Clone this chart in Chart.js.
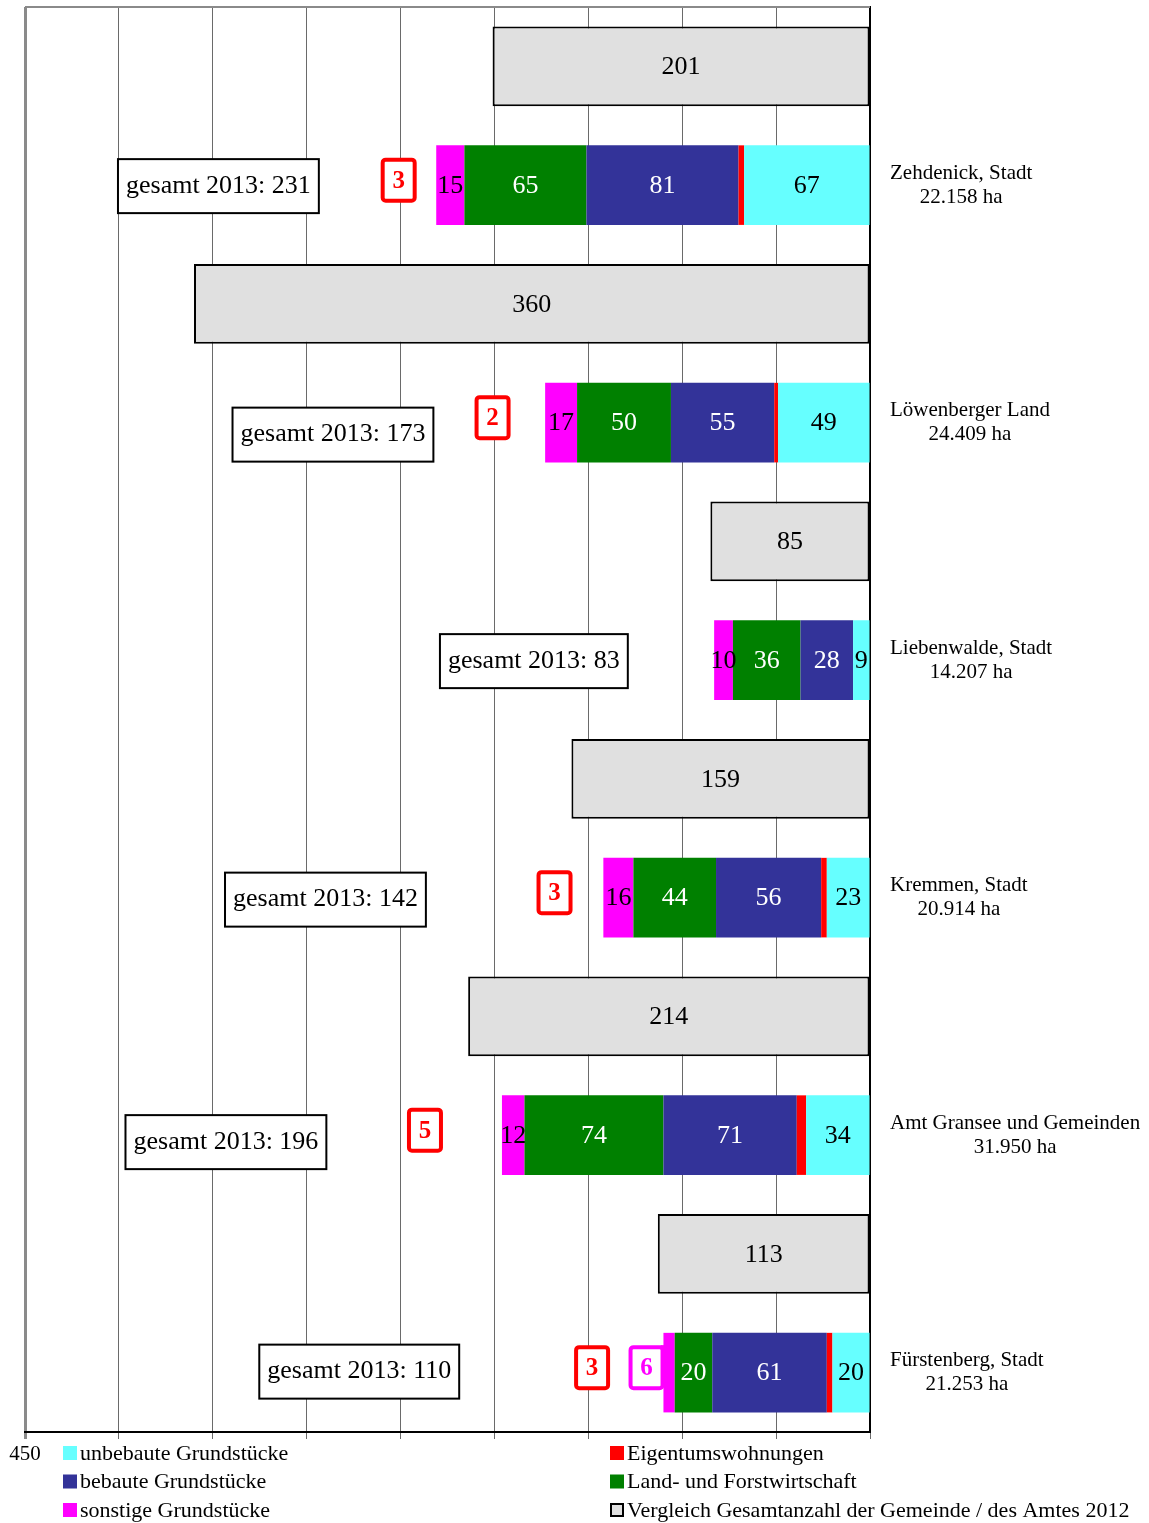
<!DOCTYPE html>
<html>
<head>
<meta charset="utf-8">
<script src="https://cdn.jsdelivr.net/npm/chart.js@4.4.1/dist/chart.umd.min.js"></script>
<style>
  body { margin: 0; background: #fff; }
  #wrap { width: 1149px; height: 1523px; position: relative; }
</style>
</head>
<body>
<div id="wrap"><canvas id="chart"></canvas></div>
<script>
// Gemeinde / Amt, Fläche
const gemeinden = [
  ['Zehdenick, Stadt', '22.158 ha'],
  ['Löwenberger Land', '24.409 ha'],
  ['Liebenwalde, Stadt', '14.207 ha'],
  ['Kremmen, Stadt', '20.914 ha'],
  ['Amt Gransee und Gemeinden', '31.950 ha'],
  ['Fürstenberg, Stadt', '21.253 ha']
];
const gesamt2012 = [201, 360, 85, 159, 214, 113];
const unbebaut   = [67, 49, 9, 23, 34, 20];
const eigentum   = [3, 2, 0, 3, 5, 3];
const bebaut     = [81, 55, 28, 56, 71, 61];
const landForst  = [65, 50, 36, 44, 74, 20];
const sonstige   = [15, 17, 10, 16, 12, 6];
const gesamt2013 = [231, 173, 83, 142, 196, 110];
const xTicks = [0, 50, 100, 150, 200, 250, 300, 350, 400, 450];

// where the text boxes sit (x in axis units, y nudge in px)
const gesamtBoxAt = [347, 286, 179, 290, 343, 272];
const gesamtBoxNudge = [0, 11, 0, 1, 6, -2];
const eigentumCalloutAt = [251, 201, null, 168, 237, 148];
const sonstigeCalloutAt = [null, null, null, null, null, 119];

const FONT = '"Liberation Serif", "Times New Roman", serif';

// each Gemeinde gets two rows: 2012 total above, 2013 breakdown below
const labels = gemeinden.flatMap(g => [g[0] + ' 2012', g[0]]);
const rows2012 = v => v.flatMap(n => [n, null]);
const rows2013 = v => v.flatMap(n => [null, n]);

const datasets = [
  { label: 'unbebaute Grundstücke', data: rows2013(unbebaut), backgroundColor: '#66ffff', textColor: '#000' },
  { label: 'Eigentumswohnungen', data: rows2013(eigentum), backgroundColor: '#ff0000', textColor: '#ff0000', callouts: eigentumCalloutAt },
  { label: 'bebaute Grundstücke', data: rows2013(bebaut), backgroundColor: '#333399', textColor: '#fff' },
  { label: 'Land- und Forstwirtschaft', data: rows2013(landForst), backgroundColor: '#008000', textColor: '#fff' },
  { label: 'sonstige Grundstücke', data: rows2013(sonstige), backgroundColor: '#ff00ff', textColor: '#000', callouts: sonstigeCalloutAt, joined: true },
  { label: 'Vergleich Gesamtanzahl der Gemeinde / des Amtes 2012', data: rows2012(gesamt2012), backgroundColor: '#e0e0e0',
    borderColor: '#000', borderWidth: 2, borderSkipped: false, textColor: '#000' }
];

function roundBox(ctx, x, y, w, h, r) {
  ctx.beginPath();
  ctx.roundRect(x, y, w, h, r);
}

const extras = {
  id: 'extras',
  beforeDatasetsDraw(chart) {
    const { ctx, chartArea: a } = chart;
    ctx.save();
    ctx.strokeStyle = '#8a8a8a';
    ctx.lineWidth = 2;
    ctx.beginPath();
    ctx.moveTo(a.left, a.top);
    ctx.lineTo(a.right, a.top);
    ctx.stroke();
    ctx.restore();
  },
  afterDatasetsDraw(chart) {
    const { ctx, scales: { x, y } } = chart;
    ctx.save();
    ctx.textAlign = 'center';
    ctx.textBaseline = 'middle';

    // values inside the segments
    ctx.font = '26px ' + FONT;
    chart.data.datasets.forEach((ds, di) => {
      chart.getDatasetMeta(di).data.forEach((bar, i) => {
        const v = ds.data[i];
        if (!v || v < 8) return;
        ctx.fillStyle = ds.textColor;
        ctx.fillText(String(v), (bar.x + bar.base) / 2, bar.y + 1);
      });
    });

    // small segments get a framed label beside the bar
    ctx.font = 'bold 25px ' + FONT;
    chart.data.datasets.forEach((ds, di) => {
      if (!ds.callouts) return;
      const meta = chart.getDatasetMeta(di);
      ds.callouts.forEach((at, g) => {
        if (at == null) return;
        const bar = meta.data[2 * g + 1];
        const cx = x.getPixelForValue(at), cy = bar.y - 5;
        const w = 32, h = 41;
        const col = ds.backgroundColor;
        if (ds.joined) {
          ctx.fillStyle = col;
          ctx.fillRect(cx + w / 2 - 2, cy - h / 2 - 2, Math.min(bar.x, bar.base) - (cx + w / 2) + 4, 4);
        }
        roundBox(ctx, cx - w / 2, cy - h / 2, w, h, 3);
        ctx.fillStyle = '#fff';
        ctx.fill();
        ctx.strokeStyle = col;
        ctx.lineWidth = 4;
        ctx.stroke();
        ctx.fillStyle = col;
        ctx.fillText(String(ds.data[2 * g + 1]), cx, cy + 1);
      });
    });

    // "gesamt 2013" boxes
    ctx.font = '26px ' + FONT;
    gesamt2013.forEach((v, g) => {
      const txt = 'gesamt 2013: ' + v;
      const cx = x.getPixelForValue(gesamtBoxAt[g]);
      const cy = y.getPixelForValue(2 * g + 1) + 1 + gesamtBoxNudge[g];
      const w = ctx.measureText(txt).width + 16, h = 54;
      ctx.fillStyle = '#fff';
      ctx.fillRect(cx - w / 2, cy - h / 2, w, h);
      ctx.strokeStyle = '#000';
      ctx.lineWidth = 2;
      ctx.strokeRect(cx - w / 2, cy - h / 2, w, h);
      ctx.fillStyle = '#000';
      ctx.fillText(txt, cx, cy);
    });

    // names on the right
    ctx.font = '21px ' + FONT;
    ctx.fillStyle = '#000';
    gemeinden.forEach((g, i) => {
      const cy = y.getPixelForValue(2 * i + 1);
      const wMax = Math.max(ctx.measureText(g[0]).width, ctx.measureText(g[1]).width);
      const cx = chart.chartArea.right + 20 + wMax / 2;
      ctx.fillText(g[0], cx, cy - 12);
      ctx.fillText(g[1], cx, cy + 12);
    });
    ctx.restore();
  },
  afterDraw(chart) {
    const { ctx, chartArea: a } = chart;
    const ds = chart.data.datasets;
    const cols = [
      { x: 63, items: [ds[0], ds[2], ds[4]] },
      { x: 610, items: [ds[1], ds[3], ds[5]] }
    ];
    ctx.save();
    ctx.font = '22px ' + FONT;
    ctx.textAlign = 'left';
    ctx.textBaseline = 'middle';
    cols.forEach(col => {
      col.items.forEach((d, r) => {
        const cy = a.bottom + 21 + r * 28.5;
        ctx.fillStyle = d.backgroundColor;
        ctx.fillRect(col.x, cy - 7, 14, 14);
        if (d.borderColor) {
          ctx.strokeStyle = d.borderColor;
          ctx.lineWidth = 2;
          ctx.strokeRect(col.x + 1, cy - 6, 12, 12);
        }
        ctx.fillStyle = '#000';
        ctx.fillText(d.label, col.x + 17, cy + 1);
      });
    });
    ctx.restore();
  }
};

new Chart(document.getElementById('chart'), {
  type: 'bar',
  data: { labels, datasets },
  options: {
    indexAxis: 'y',
    responsive: true,
    maintainAspectRatio: false,
    animation: false,
    layout: { padding: { left: 25, top: 7, right: 0, bottom: 0 } },
    datasets: { bar: { categoryPercentage: 1, barPercentage: 0.67 } },
    scales: {
      x: {
        stacked: true,
        reverse: true,
        min: 0,
        max: 450,
        afterBuildTicks: s => { s.ticks = xTicks.map(v => ({ value: v })); },
        afterFit: s => { s.height = 91; },
        ticks: {
          autoSkip: false,
          maxRotation: 0,
          padding: 3,
          color: '#000',
          font: { family: FONT, size: 21 },
          callback: v => (v === 450 ? '450' : '')
        },
        grid: {
          color: c => (c.tick && c.tick.value === 450 ? '#8a8a8a' : '#6a6a6a'),
          lineWidth: c => (c.tick && c.tick.value === 450 ? 3 : 1),
          tickLength: 7
        },
        border: { color: '#000', width: 2 }
      },
      y: {
        stacked: true,
        position: 'right',
        afterFit: s => { s.width = 279; },
        ticks: { display: false },
        grid: { display: false },
        border: { color: '#000', width: 2 }
      }
    },
    plugins: {
      legend: { display: false },
      tooltip: { enabled: false }
    }
  },
  plugins: [extras]
});
</script>
</body>
</html>
